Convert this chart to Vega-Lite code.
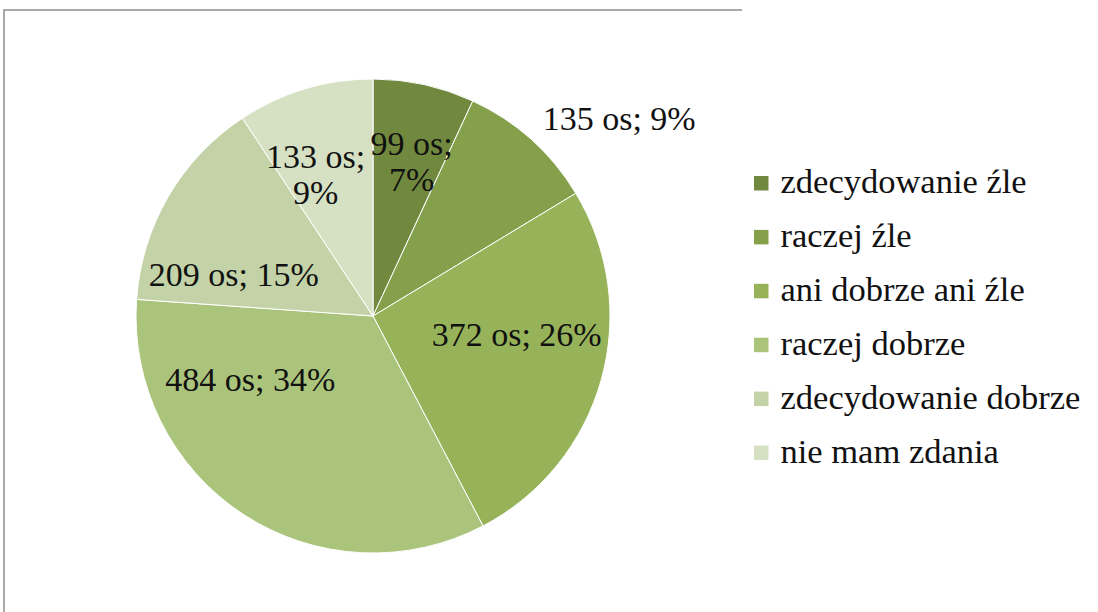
{
  "$schema": "https://vega.github.io/schema/vega-lite/v6.json",
  "width": 738,
  "height": 612,
  "padding": {"left": 4, "top": 10, "right": 0, "bottom": 0},
  "background": "white",
  "view": {"stroke": "#8f8f8f", "strokeWidth": 1.5, "strokeDash": [738, 1350, 612, 1]},
  "config": {
    "view": {"stroke": "#8f8f8f", "strokeWidth": 1.5, "strokeDash": [738, 1350, 612, 1]},
    "text": {"font": "Liberation Serif", "fontSize": 34, "color": "#111111", "lineBreak": "\n", "lineHeight": 36, "align": "center", "baseline": "middle"}
  },
  "data": {
    "values": [
      {"i": 1, "kat": "zdecydowanie źle", "n": 99, "lab": "99 os;\n7%"},
      {"i": 2, "kat": "raczej źle", "n": 135, "lab": "135 os; 9%"},
      {"i": 3, "kat": "ani dobrze ani źle", "n": 372, "lab": "372 os; 26%"},
      {"i": 4, "kat": "raczej dobrze", "n": 484, "lab": "484 os; 34%"},
      {"i": 5, "kat": "zdecydowanie dobrze", "n": 209, "lab": "209 os; 15%"},
      {"i": 6, "kat": "nie mam zdania", "n": 133, "lab": "133 os;\n9%"}
    ]
  },
  "encoding": {
    "theta": {"field": "n", "type": "quantitative", "stack": true},
    "order": {"field": "i", "type": "quantitative"}
  },
  "layer": [
    {
      "mark": {"type": "arc", "radius": 237, "stroke": "white", "strokeWidth": 1},
      "encoding": {
        "color": {
          "field": "kat",
          "type": "nominal",
          "sort": null,
          "scale": {
            "domain": ["zdecydowanie źle", "raczej źle", "ani dobrze ani źle", "raczej dobrze", "zdecydowanie dobrze", "nie mam zdania"],
            "range": ["#71893F", "#84A04B", "#97B35A", "#ABC47B", "#C3D3A7", "#D6E1C4"]
          },
          "legend": {
            "title": null,
            "orient": "none",
            "legendX": 740,
            "legendY": 156,
            "padding": 0,
            "symbolType": "square",
            "symbolSize": 210,
            "symbolStrokeWidth": 0,
            "symbolOpacity": 1,
            "labelFont": "Liberation Serif",
            "labelFontSize": 34.5,
            "labelColor": "#111111",
            "labelOffset": 2,
            "labelLimit": 500,
            "rowPadding": 18.9
          }
        }
      }
    },
    {
      "mark": {"type": "text", "radius": 175, "dx": 1, "dy": 0},
      "encoding": {"text": {"condition": {"test": "datum.i == 1", "field": "lab"}, "value": ""}}
    },
    {
      "mark": {"type": "text", "radius": 300, "dx": 46, "dy": 27},
      "encoding": {"text": {"condition": {"test": "datum.i == 2", "field": "lab"}, "value": ""}}
    },
    {
      "mark": {"type": "text", "radius": 145, "dx": 4, "dy": -19},
      "encoding": {"text": {"condition": {"test": "datum.i == 3", "field": "lab"}, "value": ""}}
    },
    {
      "mark": {"type": "text", "radius": 140, "dx": -46, "dy": -52},
      "encoding": {"text": {"condition": {"test": "datum.i == 4", "field": "lab"}, "value": ""}}
    },
    {
      "mark": {"type": "text", "radius": 145, "dx": -14, "dy": 33},
      "encoding": {"text": {"condition": {"test": "datum.i == 5", "field": "lab"}, "value": ""}}
    },
    {
      "mark": {"type": "text", "radius": 168, "dx": -9, "dy": 3},
      "encoding": {"text": {"condition": {"test": "datum.i == 6", "field": "lab"}, "value": ""}}
    }
  ]
}
